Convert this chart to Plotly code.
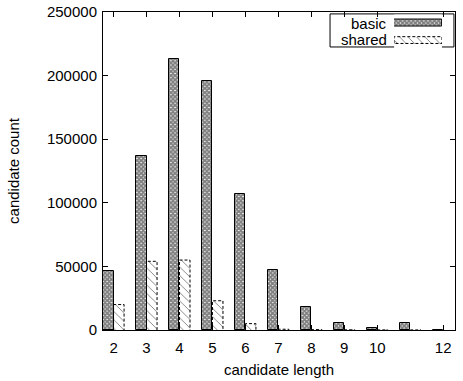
import plotly.graph_objects as go

# candidate lengths and counts per method
lengths = [2, 3, 4, 5, 6, 7, 8, 9, 10, 11, 12]
basic = [46000, 137000, 213000, 196000, 107000, 47000, 18000, 5500, 1500, 5500, 300]
shared = [20000, 54000, 55000, 23000, 5000, 600, 300, 150, 100, 80, 0]
tick_vals = [2, 3, 4, 5, 6, 7, 8, 9, 10, 12]
tick_text = ["2", "3", "4", "5", "6", "7", "8", "9", "10", "12"]
series_names = ["basic", "shared"]

BAR_W = 0.32
FONT = "Liberation Sans, Arial, Helvetica, sans-serif"
FS = 15

basic_pattern = dict(shape="x", size=3, solidity=0.85, fgcolor="black", bgcolor="white")
shared_pattern = dict(shape="\\", size=6, solidity=0.15, fgcolor="black", bgcolor="white")

fig = go.Figure()

fig.add_trace(go.Bar(
    x=[v - BAR_W / 2 for v in lengths], y=basic, width=BAR_W,
    marker=dict(color="white", pattern=basic_pattern, line=dict(color="black", width=1)),
    showlegend=False, name=series_names[0],
))
fig.add_trace(go.Bar(
    x=[v + BAR_W / 2 for v in lengths], y=shared, width=BAR_W,
    marker=dict(color="white", pattern=shared_pattern, line=dict(width=0)),
    showlegend=False, name=series_names[1],
))

# dashed outlines around the shared bars
ox, oy = [], []
for v, h in zip(lengths, shared):
    if h <= 0:
        continue
    x0, x1 = v, v + BAR_W
    ox += [x0, x0, x1, x1, None]
    oy += [0, h, h, 0, None]
fig.add_trace(go.Scatter(x=ox, y=oy, mode="lines", showlegend=False, hoverinfo="skip",
                         line=dict(color="black", width=1, dash="3px,2px")))

# key samples drawn on a small inset axis
fig.add_trace(go.Bar(
    y=[1], x=[1], base=[0], orientation="h", width=0.4, xaxis="x2", yaxis="y2",
    marker=dict(color="white", pattern=basic_pattern, line=dict(color="black", width=1)),
    showlegend=False,
))
fig.add_trace(go.Bar(
    y=[0], x=[1], base=[0], orientation="h", width=0.4, xaxis="x2", yaxis="y2",
    marker=dict(color="white", pattern=shared_pattern, line=dict(width=0)),
    showlegend=False,
))
fig.add_trace(go.Scatter(
    x=[0, 0, 1, 1, 0], y=[-0.2, 0.2, 0.2, -0.2, -0.2], mode="lines", xaxis="x2", yaxis="y2",
    line=dict(color="black", width=1, dash="3px,2px"), showlegend=False, hoverinfo="skip",
))

axis_common = dict(
    showline=True, linecolor="black", linewidth=1, mirror="ticks",
    ticks="inside", ticklen=5, tickcolor="black", showgrid=False, zeroline=False,
    automargin=False,
    tickfont=dict(family=FONT, size=FS, color="black"),
)

fig.update_layout(
    width=463, height=381,
    margin=dict(l=103, r=8, t=12, b=51),
    paper_bgcolor="white", plot_bgcolor="white",
    barmode="overlay", bargap=0,
    font=dict(family=FONT, size=FS, color="black"),
    xaxis=dict(range=[1.68, 12.36], tickvals=tick_vals, ticktext=tick_text,
               ticklabelstandoff=4,
               title=dict(text="candidate length", standoff=9,
                          font=dict(family=FONT, size=FS, color="black")),
               **axis_common),
    yaxis=dict(range=[0, 250000], tickvals=[0, 50000, 100000, 150000, 200000, 250000],
               ticktext=["0", "50000", "100000", "150000", "200000", "250000"],
               ticklabelstandoff=2,
               title=dict(text="candidate count", standoff=23,
                          font=dict(family=FONT, size=FS, color="black")),
               **axis_common),
    xaxis2=dict(domain=[0.827, 0.963], range=[0, 1], anchor="y2", visible=False, fixedrange=True),
    yaxis2=dict(domain=[0.885, 0.992], range=[-0.5, 1.5], anchor="x2", visible=False, fixedrange=True),
    shapes=[dict(type="rect", xref="paper", yref="paper", x0=0.645, x1=0.997, y0=0.890, y1=0.994,
                 line=dict(color="black", width=1), fillcolor="rgba(0,0,0,0)", layer="below")],
    annotations=[
        dict(text=series_names[0], xref="paper", yref="paper", x=0.812, y=0.965,
             xanchor="right", yanchor="middle", showarrow=False,
             font=dict(family=FONT, size=FS, color="black")),
        dict(text=series_names[1], xref="paper", yref="paper", x=0.812, y=0.912,
             xanchor="right", yanchor="middle", showarrow=False,
             font=dict(family=FONT, size=FS, color="black")),
    ],
)

fig.write_html("out.html")
